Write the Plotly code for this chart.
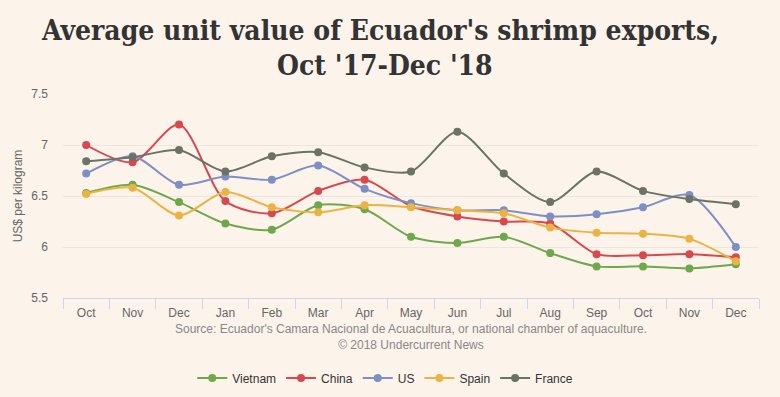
import plotly.graph_objects as go

months = ["Oct", "Nov", "Dec", "Jan", "Feb", "Mar", "Apr", "May", "Jun",
          "Jul", "Aug", "Sep", "Oct", "Nov", "Dec"]

vietnam = [6.53, 6.61, 6.44, 6.23, 6.17, 6.41, 6.37, 6.10, 6.04, 6.10, 5.94, 5.81, 5.81, 5.79, 5.83]
china   = [7.00, 6.83, 7.20, 6.45, 6.33, 6.55, 6.66, 6.40, 6.30, 6.25, 6.23, 5.93, 5.92, 5.93, 5.90]
us      = [6.72, 6.89, 6.61, 6.69, 6.66, 6.80, 6.57, 6.43, 6.36, 6.36, 6.30, 6.32, 6.39, 6.51, 6.00]
spain   = [6.52, 6.58, 6.31, 6.54, 6.39, 6.34, 6.41, 6.39, 6.36, 6.33, 6.19, 6.14, 6.13, 6.08, 5.86]
france  = [6.84, 6.88, 6.95, 6.74, 6.89, 6.93, 6.78, 6.74, 7.13, 6.72, 6.44, 6.74, 6.55, 6.47, 6.42]

series = [
    ("Vietnam", vietnam, "#6fa84a"),
    ("China", china, "#d8484f"),
    ("US", us, "#7d8fc3"),
    ("Spain", spain, "#e9b443"),
    ("France", france, "#6c7266"),
]

title_lines = ["Average unit value of Ecuador's shrimp exports,", "Oct '17-Dec '18"]

xs = list(range(len(months)))
FONT = "Liberation Sans Narrow, Liberation Sans, Arial, sans-serif"
TFONT = "DejaVu Serif Condensed, DejaVu Serif, serif"
BG = "#fcf3eb"

fig = go.Figure()
for name, vals, col in series:
    fig.add_trace(go.Scatter(
        x=xs, y=vals, name=name, mode="lines+markers",
        line=dict(color=col, width=2, shape="spline", smoothing=0.8),
        marker=dict(color=col, size=8),
    ))

fig.update_layout(
    width=780, height=397,
    paper_bgcolor=BG, plot_bgcolor=BG,
    margin=dict(l=63, r=21, t=94, b=99, autoexpand=False),
    font=dict(family=FONT, size=11, color="#666666"),
    showlegend=True,
    legend=dict(orientation="h", x=0.463, xanchor="center", y=-0.392, yanchor="middle",
                font=dict(family=FONT, size=12, color="#333333"),
                itemwidth=30, bgcolor="rgba(0,0,0,0)"),
    xaxis=dict(
        range=[-0.5, len(months) - 0.5],
        tickmode="array", tickvals=xs, ticktext=months, ticks="",
        showgrid=False, zeroline=False,
        showline=True, linecolor="#ccd6eb", linewidth=1,
        tickfont=dict(family=FONT, size=12, color="#666666"),
        ticklabelstandoff=4,
        minor=dict(tickmode="array", tickvals=[i - 0.5 for i in range(len(months) + 1)],
                   ticks="outside", ticklen=10, tickcolor="#ccd6eb", showgrid=False),
        fixedrange=True,
    ),
    yaxis=dict(
        range=[5.5, 7.5], dtick=0.5, tick0=5.5,
        showgrid=True, gridcolor="#ece6e0", gridwidth=1,
        zeroline=False, showline=False,
        tickfont=dict(family=FONT, size=12, color="#666666"),
        ticklabelstandoff=14,
        title=dict(text="US$ per kilogram", font=dict(family=FONT, size=12, color="#666666"), standoff=6),
    ),
    annotations=[
        dict(text=title_lines[0], xref="paper", yref="paper", x=0.456, y=1.309,
             xanchor="center", yanchor="middle", showarrow=False,
             font=dict(family=TFONT, size=28, color="#333333", weight="bold")),
        dict(text=title_lines[1], xref="paper", yref="paper", x=0.463, y=1.142,
             xanchor="center", yanchor="middle", showarrow=False,
             font=dict(family=TFONT, size=28, color="#333333", weight="bold")),
        dict(text="Source: Ecuador's Camara Nacional de Acuacultura, or national chamber of aquaculture.<br>© 2018 Undercurrent News",
             xref="paper", yref="paper", x=0.5, y=-0.11, xanchor="center", yanchor="top",
             showarrow=False, font=dict(family=FONT, size=12, color="#888888")),
    ],
)

fig.write_html("out.html", config={"displayModeBar": False},
               post_script="document.body.style.margin='0';document.body.style.background='#fcf3eb';")
